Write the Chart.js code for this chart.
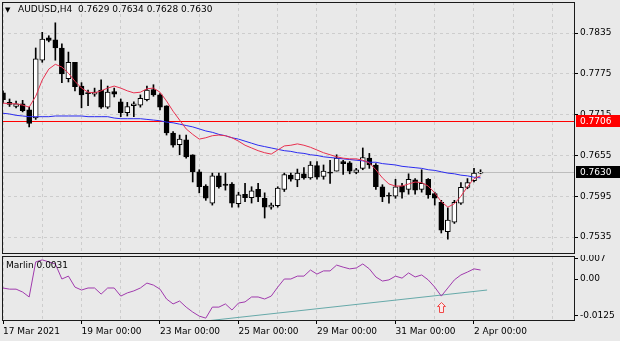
<!DOCTYPE html>
<html>
<head>
<meta charset="utf-8">
<script src="https://cdn.jsdelivr.net/npm/chart.js@4.4.0/dist/chart.umd.min.js"></script>
<style>
    body { margin: 0; background: #e9e9e9; }
    #wrap { position: relative; width: 620px; height: 341px; overflow: hidden; background: #e9e9e9; }
    canvas { position: absolute; left: 0; }
    #main { top: 0; }
    #osc { top: 255px; }
</style>
</head>
<body>
<div id="wrap">
    <canvas id="main" width="620" height="255"></canvas>
    <canvas id="osc" width="620" height="86"></canvas>
</div>
<script>
const symbol = "AUDUSD,H4"

// H4 bars, 17 Mar 00:00 -> 2 Apr 04:00
const opens = [
    .7747, .7733, .7727, .7731, .7722, .7710, .7795, .7828, .7825, .7813,
    .7768, .7792, .7757, .7747, .7745, .7751, .7726, .7749, .7734, .7718,
    .7728, .7729, .7737, .7752, .7744, .7728, .7688, .7671, .7678, .7656,
    .7631, .7610, .7585, .7625, .7613, .7613, .7584, .7598, .7593, .7605,
    .7592, .7579, .7581, .7605, .7626, .7619, .7628, .7622, .7640, .7624,
    .7630, .7632, .7646, .7644, .7630, .7636, .7651, .7641, .7609, .7596,
    .7595, .7610, .7605, .7619, .7605, .7620, .7599, .7586, .7543, .7557,
    .7585, .7608, .7618, .7629]
const highs = [
    .7750, .7738, .7735, .7736, .7726, .7813, .7836, .7831, .7850, .7819,
    .7807, .7792, .7762, .7751, .7754, .7766, .7757, .7754, .7738, .7733,
    .7734, .7744, .7757, .7759, .7746, .7728, .7690, .7685, .7685, .7656,
    .7634, .7612, .7629, .7629, .7629, .7615, .7601, .7614, .7609, .7614,
    .7600, .7585, .7609, .7629, .7629, .7635, .7637, .7646, .7646, .7641,
    .7648, .7656, .7648, .7646, .7636, .7666, .7658, .7643, .7612, .7600,
    .7620, .7614, .7628, .7621, .7634, .7621, .7601, .7589, .7578, .7589,
    .7615, .7621, .7636, .7634]
const lows = [
    .7732, .7727, .7725, .7719, .7697, .7708, .7792, .7822, .7795, .7762,
    .7763, .7750, .7725, .7728, .7742, .7724, .7724, .7741, .7712, .7713,
    .7712, .7726, .7735, .7742, .7722, .7685, .7667, .7656, .7651, .7616,
    .7600, .7589, .7582, .7607, .7604, .7579, .7579, .7587, .7585, .7587,
    .7563, .7576, .7579, .7602, .7617, .7609, .7620, .7620, .7620, .7620,
    .7614, .7632, .7627, .7628, .7628, .7634, .7636, .7605, .7587, .7585,
    .7592, .7592, .7598, .7598, .7601, .7592, .7582, .7541, .7532, .7555,
    .7583, .7606, .7616, .7628]
const closes = [
    .7737, .7730, .7731, .7721, .7702, .7797, .7826, .7824, .7813, .7775,
    .7792, .7756, .7744, .7746, .7748, .7726, .7748, .7745, .7718, .7727,
    .7731, .7739, .7751, .7744, .7726, .7688, .7670, .7679, .7653, .7631,
    .7609, .7592, .7625, .7609, .7611, .7585, .7597, .7593, .7603, .7594,
    .7579, .7582, .7607, .7627, .7620, .7629, .7622, .7641, .7623, .7632,
    .7629, .7651, .7643, .7632, .7634, .7652, .7641, .7609, .7594, .7595,
    .7609, .7601, .7620, .7604, .7614, .7597, .7592, .7545, .7560, .7586,
    .7608, .7615, .7629, .7630]

// moving averages (fast red, slow blue)
const fastMa = [
    .7732, .7731, .7731, .7729, .7726, .7742, .7766, .7782, .7789, .7785,
    .7776, .7764, .7754, .7748, .7747, .7750, .7754, .7757, .7754, .7750,
    .7747, .7748, .7753, .7754, .7748, .7735, .7720, .7707, .7694, .7686,
    .7679, .7681, .7684, .7685, .7684, .7681, .7676, .7670, .7666, .7662,
    .7659, .7657, .7663, .7669, .7670, .7672, .7670, .7667, .7663, .7659,
    .7656, .7653, .7651, .7650, .7650, .7648, .7644, .7634, .7622, .7613,
    .7610, .7610, .7613, .7616, .7615, .7610, .7600, .7587, .7579, .7584,
    .7595, .7609, .7621, .7625]
const slowMa = [
    .7717, .7716, .7714, .7713, .7712, .7712, .7712, .7712, .7713, .7713,
    .7713, .7713, .7713, .7712, .7712, .7712, .7712, .7710, .7709, .7709,
    .7709, .7709, .7708, .7707, .7706, .7704, .7703, .7701, .7699, .7697,
    .7694, .7691, .7689, .7686, .7684, .7681, .7679, .7676, .7673, .7670,
    .7668, .7666, .7664, .7662, .7661, .7659, .7658, .7656, .7655, .7653,
    .7652, .7651, .7650, .7649, .7648, .7647, .7645, .7645, .7643, .7642,
    .7641, .7639, .7638, .7637, .7636, .7634, .7633, .7631, .7629, .7628,
    .7626, .7625, .7623, .7622]

const marlin = [
    -0.0031, -0.0035, -0.0035, -0.0045, -0.0062, 0.0059, 0.0066, 0.0059, 0.0052, 0.0000,
    0.0010, -0.0028, -0.0038, -0.0031, -0.0031, -0.0052, -0.0031, -0.0031, -0.0059, -0.0048,
    -0.0041, -0.0031, -0.0014, -0.0021, -0.0035, -0.0069, -0.0086, -0.0076, -0.0097, -0.0114,
    -0.0128, -0.0135, -0.0097, -0.0097, -0.0086, -0.0107, -0.0083, -0.0079, -0.0062, -0.0062,
    -0.0069, -0.0059, -0.0028, 0.0000, 0.0000, 0.0010, 0.0010, 0.0031, 0.0017, 0.0028,
    0.0028, 0.0048, 0.0041, 0.0035, 0.0038, 0.0052, 0.0035, 0.0007, -0.0007, -0.0003,
    0.0010, 0.0003, 0.0021, 0.0007, 0.0014, -0.0003, -0.0028, -0.0059, -0.0031, -0.0003,
    0.0014, 0.0024, 0.0035, 0.0031]
const marlinTrend = [{ x: 31, y: -0.01449 }, { x: 74, y: -0.0038 }]
const signalBar = 67
const signalValue = -0.0079

const levelPrice = 0.7706
const priceTicks = [0.7535, 0.7595, 0.7655, 0.7715, 0.7775, 0.7835]
const marlinTicks = [0.007, 0, -0.0125]
const marlinTickLabels = ["0.007", "0.00", "-0.0125"]
const gridBars = [0, 6, 12, 18, 24, 30, 36, 42, 48, 54, 60, 66, 72, 78, 84]
const dateBars = [0, 12, 24, 36, 48, 60, 72]
const dateLabels = ["17 Mar 2021", "19 Mar 00:00", "23 Mar 00:00", "25 Mar 00:00", "29 Mar 00:00", "31 Mar 00:00", "2 Apr 00:00"]

// visible window in bar units, shared by both panels
const viewStart = -0.153
const viewEnd = 87.44

const font = { family: "DejaVu Sans", size: 9 }
const gridColor = "#cdcdcd"
const last = closes.length - 1

const bars = closes.map((c, i) => i)
const wickData = bars.map(i => ({ x: i, y: [lows[i], highs[i]] }))
const bodyData = bars.map(i => ({ x: i, y: [opens[i], closes[i]] }))
const bodyColors = bars.map(i => closes[i] >= opens[i] ? "#ffffff" : "#000000")

// keep the plot area where the layout padding puts it, labels may overhang
const noOverhang = s => {
    s.paddingTop = 0
    s.paddingBottom = 0
    s.paddingLeft = 0
    s.paddingRight = 0
}

const panelFrame = {
    id: "panelFrame",
    afterDraw(chart) {
        const { ctx, chartArea: a } = chart
        const l = Math.round(a.left) + 0.5, t = Math.round(a.top) + 0.5
        const r = Math.round(a.right) - 0.5, b = Math.round(a.bottom) - 0.5
        ctx.save()
        ctx.strokeStyle = "#1a1a1a"
        ctx.lineWidth = 1
        ctx.strokeRect(l, t, r - l, b - t)
        ctx.restore()
    }
}

const priceLevels = {
    id: "priceLevels",
    beforeDatasetsDraw(chart) {
        const { ctx, chartArea: a, scales: { y } } = chart
        const hline = (v, color) => {
            const py = Math.round(y.getPixelForValue(v)) + 0.5
            ctx.strokeStyle = color
            ctx.beginPath()
            ctx.moveTo(a.left, py)
            ctx.lineTo(a.right, py)
            ctx.stroke()
        }
        ctx.save()
        ctx.lineWidth = 1
        hline(closes[last], "#bdbdbd")
        hline(levelPrice, "#ff0000")
        ctx.restore()
    },
    afterDraw(chart) {
        const { ctx, chartArea: a, scales: { y } } = chart
        const tag = (v, bg) => {
            const py = Math.round(y.getPixelForValue(v))
            ctx.fillStyle = bg
            ctx.fillRect(Math.round(a.right) + 1, py - 6, chart.width - a.right, 12)
            ctx.fillStyle = "#ffffff"
            ctx.fillText(v.toFixed(4), Math.round(a.right) + 5, py + 0.5)
        }
        ctx.save()
        ctx.font = '9px "DejaVu Sans"'
        ctx.textBaseline = "middle"
        tag(levelPrice, "#ff0000")
        tag(closes[last], "#000000")

        // header: symbol and the OHLC of the current bar
        ctx.fillStyle = "#000000"
        ctx.font = '7px "DejaVu Sans"'
        ctx.fillText("\u25BC", 5, 10)
        ctx.font = '9px "DejaVu Sans"'
        const ohlc = [opens[last], highs[last], lows[last], closes[last]].map(v => v.toFixed(4)).join(" ")
        ctx.fillText(symbol + "  " + ohlc, 18, 10)
        ctx.restore()
    }
}

const marlinMarks = {
    id: "marlinMarks",
    afterDatasetsDraw(chart) {
        const { ctx, scales: { x, y } } = chart
        const cx = Math.round(x.getPixelForValue(signalBar)) + 0.5
        const top = Math.round(y.getPixelForValue(signalValue)) + 0.5
        ctx.save()
        ctx.beginPath()
        ctx.moveTo(cx, top)
        ctx.lineTo(cx + 4, top + 4)
        ctx.lineTo(cx + 2, top + 4)
        ctx.lineTo(cx + 2, top + 10)
        ctx.lineTo(cx - 2, top + 10)
        ctx.lineTo(cx - 2, top + 4)
        ctx.lineTo(cx - 4, top + 4)
        ctx.closePath()
        ctx.fillStyle = "#fbeaea"
        ctx.fill()
        ctx.strokeStyle = "#f04848"
        ctx.lineWidth = 1
        ctx.stroke()

        ctx.fillStyle = "#000000"
        ctx.font = '9px "DejaVu Sans"'
        ctx.textBaseline = "middle"
        ctx.fillText("Marlin " + marlin[last].toFixed(4), 6, 11)
        ctx.restore()
    }
}

const lineSet = (data, color, order) => ({
    type: "line",
    data: data,
    borderColor: color,
    borderWidth: 1,
    pointRadius: 0,
    fill: false,
    tension: 0,
    order: order
})

new Chart(document.getElementById("main"), {
    type: "bar",
    data: {
        datasets: [
            {
                data: wickData,
                backgroundColor: "#000000",
                barThickness: 1,
                maxBarThickness: 1,
                grouped: false,
                order: 3
            },
            {
                data: bodyData,
                backgroundColor: bodyColors,
                borderColor: "#000000",
                borderWidth: 1,
                borderSkipped: false,
                barThickness: 5,
                maxBarThickness: 5,
                minBarLength: 1,
                grouped: false,
                order: 2
            },
            lineSet(slowMa.map((v, i) => ({ x: i, y: v })), "#2b2bf0", 1),
            lineSet(fastMa.map((v, i) => ({ x: i, y: v })), "#e8304f", 0)
        ]
    },
    options: {
        responsive: false,
        animation: false,
        layout: { padding: { left: 2, top: 2, bottom: 1, right: 0 } },
        plugins: { legend: { display: false }, tooltip: { enabled: false } },
        scales: {
            x: {
                type: "linear",
                min: viewStart,
                max: viewEnd,
                offset: false,
                afterBuildTicks: s => { s.ticks = gridBars.map(v => ({ value: v })) },
                afterFit: s => { s.height = 0; noOverhang(s) },
                ticks: { display: false },
                grid: { color: gridColor, offset: false, drawTicks: false },
                border: { display: false, dash: [3, 3] }
            },
            y: {
                type: "linear",
                position: "right",
                min: 0.75101,
                max: 0.78806,
                afterBuildTicks: s => { s.ticks = priceTicks.map(v => ({ value: v })) },
                afterFit: s => { s.width = 45; noOverhang(s) },
                ticks: { font: font, color: "#000000", padding: 2, callback: v => v.toFixed(4) },
                grid: { color: gridColor, tickColor: "#000000", tickLength: 3 },
                border: { display: false, dash: [3, 3] }
            }
        }
    },
    plugins: [priceLevels, panelFrame]
})

new Chart(document.getElementById("osc"), {
    type: "line",
    data: {
        datasets: [
            lineSet(marlinTrend, "#66a9a9", 1),
            lineSet(marlin.map((v, i) => ({ x: i, y: v })), "#a03aad", 0)
        ]
    },
    options: {
        responsive: false,
        animation: false,
        layout: { padding: { left: 2, top: 1, bottom: 0, right: 0 } },
        plugins: { legend: { display: false }, tooltip: { enabled: false } },
        scales: {
            x: {
                type: "linear",
                min: viewStart,
                max: viewEnd,
                offset: false,
                afterBuildTicks: s => { s.ticks = gridBars.map(v => ({ value: v })) },
                afterFit: s => { s.height = 20; noOverhang(s) },
                ticks: {
                    autoSkip: false,
                    maxRotation: 0,
                    align: "start",
                    padding: 2,
                    font: font,
                    color: "#000000",
                    callback: v => dateBars.includes(v) ? dateLabels[dateBars.indexOf(v)] : ""
                },
                grid: {
                    color: gridColor,
                    offset: false,
                    tickLength: 3,
                    tickColor: c => dateBars.includes(c.tick && c.tick.value) ? "#000000" : "rgba(0,0,0,0)"
                },
                border: { display: false, dash: [3, 3] }
            },
            y: {
                type: "linear",
                position: "right",
                min: -0.01449,
                max: 0.00794,
                afterBuildTicks: s => { s.ticks = marlinTicks.map(v => ({ value: v })) },
                afterFit: s => { s.width = 45; noOverhang(s) },
                ticks: { font: font, color: "#000000", padding: 2, callback: (v, i) => marlinTickLabels[i] },
                grid: { drawOnChartArea: false, tickColor: "#000000", tickLength: 3 },
                border: { display: false }
            }
        }
    },
    plugins: [marlinMarks, panelFrame]
})
</script>
</body>
</html>
